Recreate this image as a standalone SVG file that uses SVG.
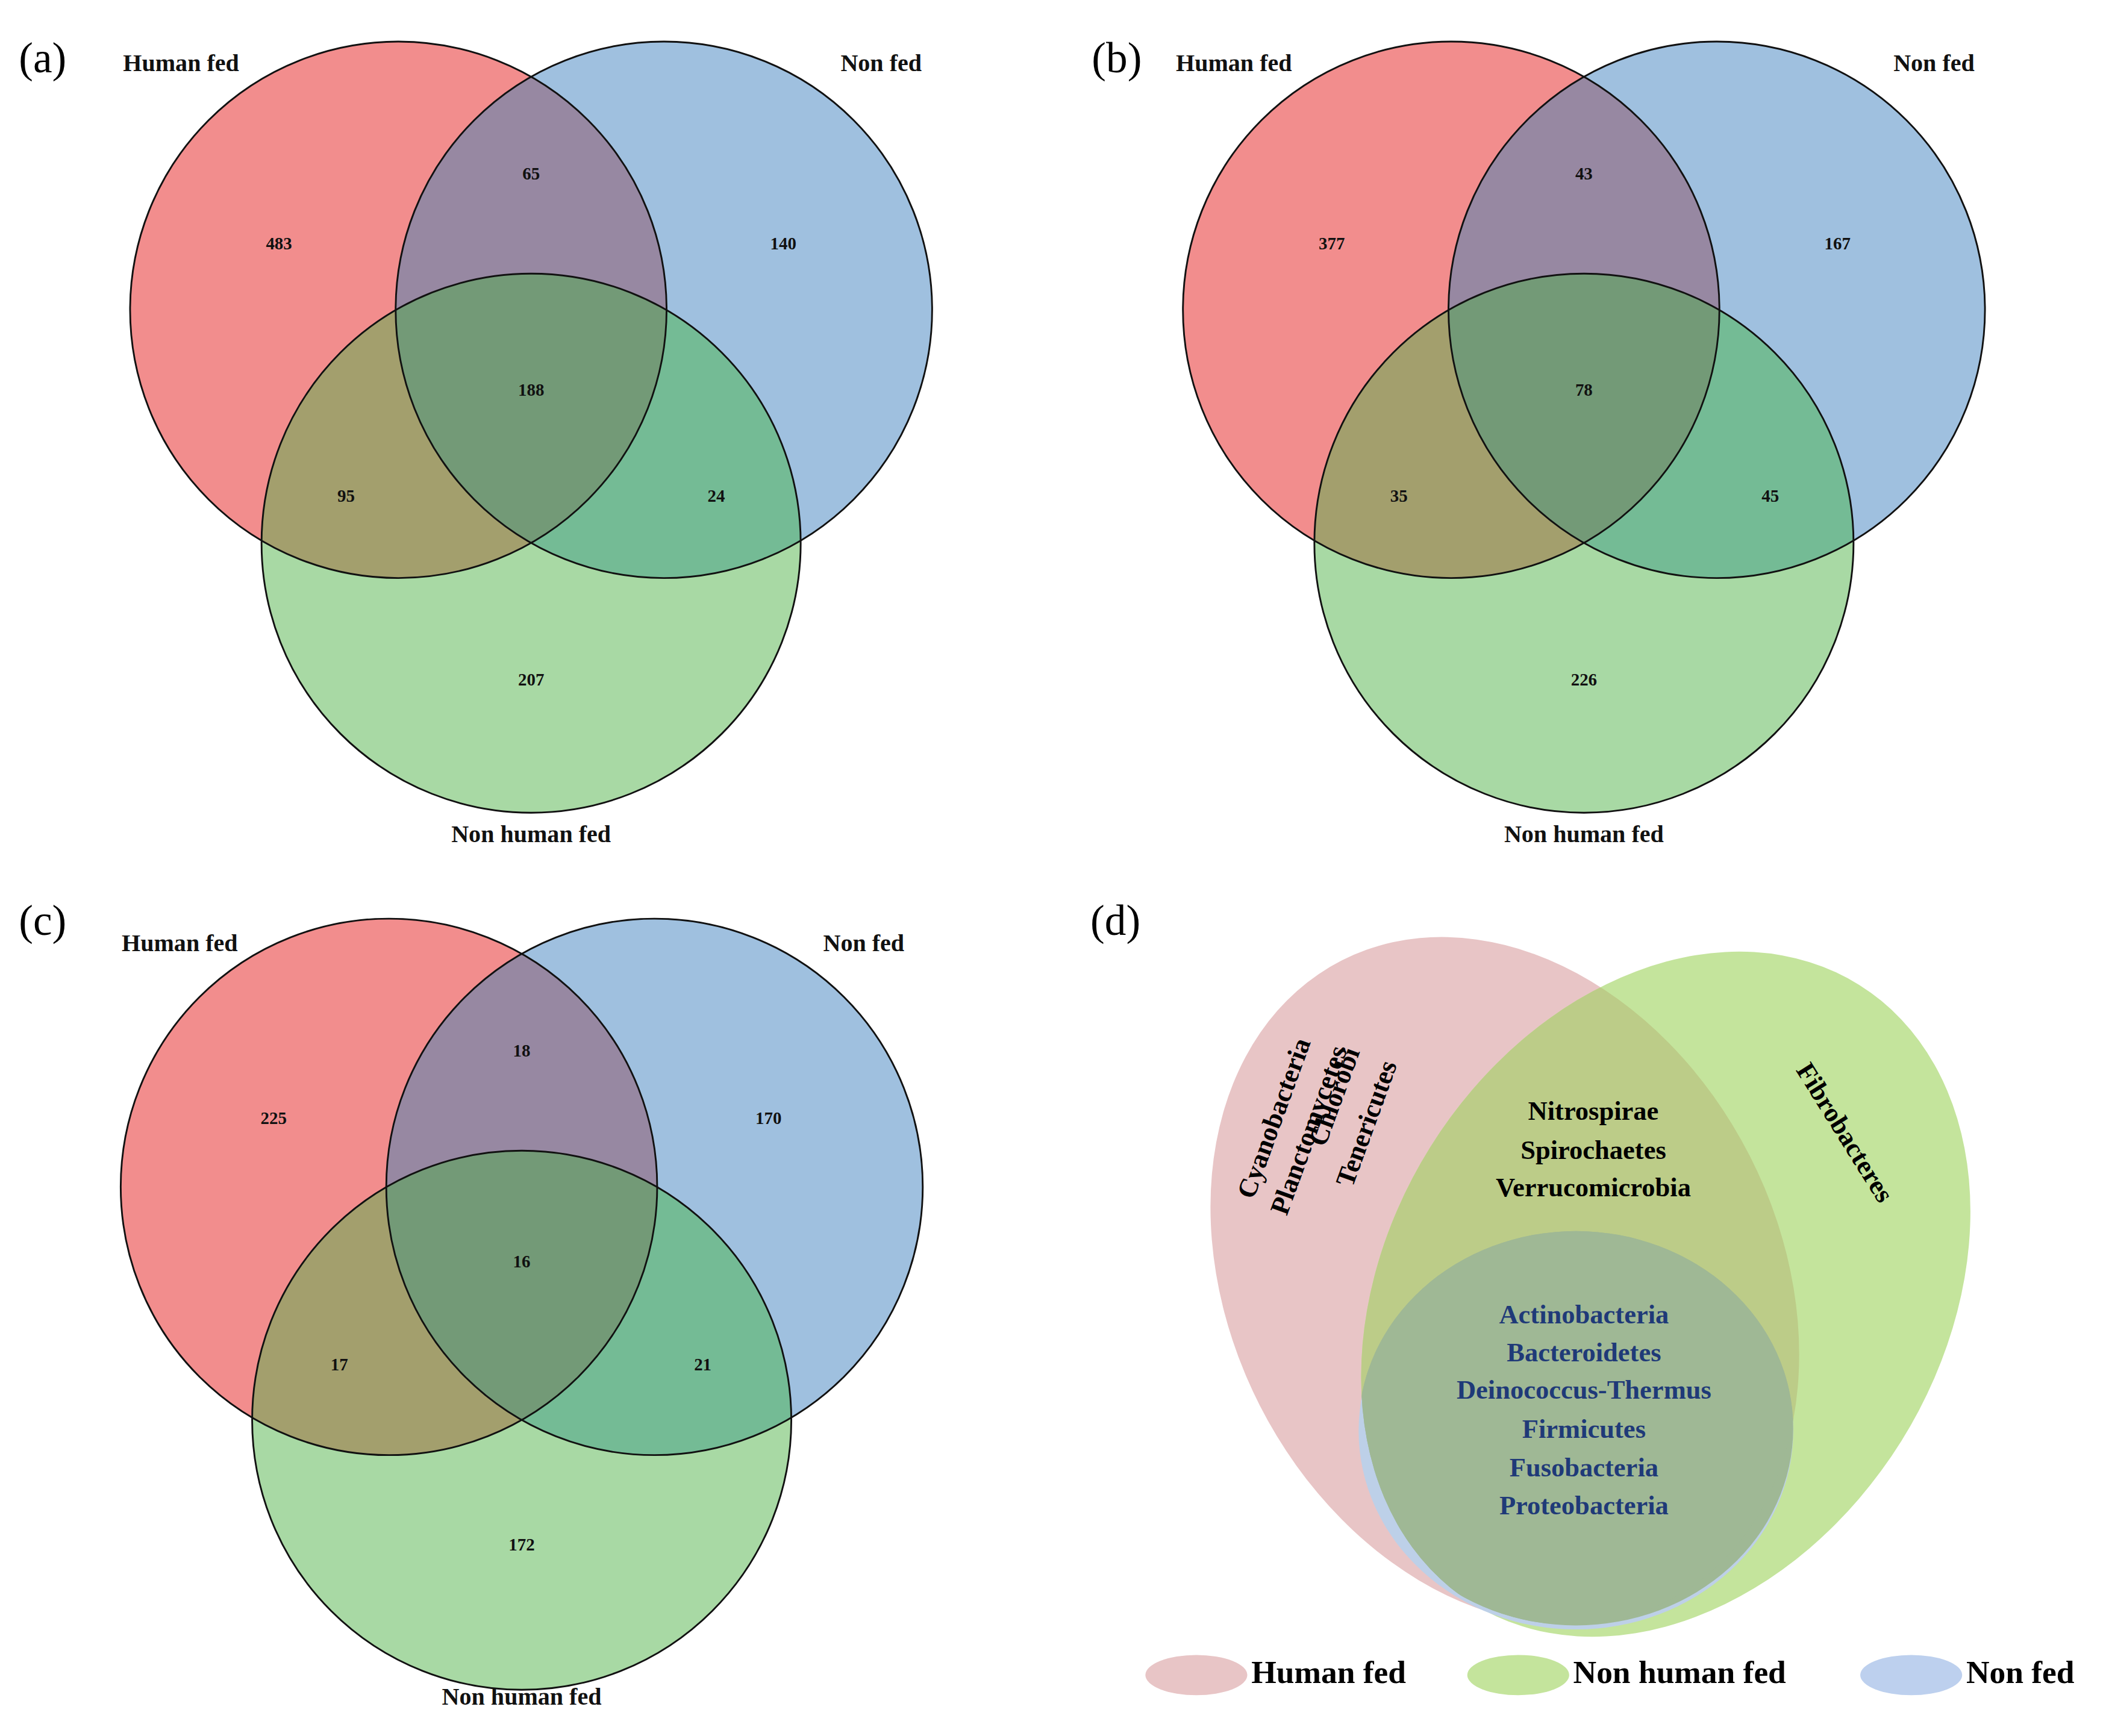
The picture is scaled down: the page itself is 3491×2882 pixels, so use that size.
<svg xmlns="http://www.w3.org/2000/svg" width="3491" height="2882" viewBox="0 0 3491 2882">
<style>
.n{font-family:"Liberation Serif",serif;font-weight:bold;font-size:13px;text-anchor:middle;fill:#111}
.l{font-family:"Liberation Serif",serif;font-weight:bold;font-size:18px;text-anchor:middle;fill:#111}
.p{font-family:"Liberation Serif",serif;font-size:32px;fill:#000}
.o{fill:none;stroke:#111;stroke-width:1.3}
.d{font-family:"Liberation Serif",serif;font-weight:bold;font-size:20px;text-anchor:middle;fill:#000}
.db{font-family:"Liberation Serif",serif;font-weight:bold;font-size:20px;text-anchor:middle;fill:#1f3a78}
.lg{font-family:"Liberation Serif",serif;font-weight:bold;font-size:24px;fill:#000}
</style>
<defs>
<clipPath id="cA"><circle cx="297" cy="231" r="200"/></clipPath>
<clipPath id="cB"><circle cx="495" cy="231" r="200"/></clipPath>
<clipPath id="cC"><circle cx="396" cy="405" r="201"/></clipPath>
<g id="venn">
<circle cx="297" cy="231" r="200" fill="#f28d8d"/>
<circle cx="495" cy="231" r="200" fill="#9fc0df"/>
<circle cx="396" cy="405" r="201" fill="#a8d9a4"/>
<g clip-path="url(#cA)"><circle cx="495" cy="231" r="200" fill="#9788a2"/><circle cx="396" cy="405" r="201" fill="#a39f6d"/></g>
<g clip-path="url(#cB)"><circle cx="396" cy="405" r="201" fill="#74bb95"/></g>
<g clip-path="url(#cA)"><g clip-path="url(#cB)"><circle cx="396" cy="405" r="201" fill="#739a77"/></g></g>
<circle class="o" cx="297" cy="231" r="200"/>
<circle class="o" cx="495" cy="231" r="200"/>
<circle class="o" cx="396" cy="405" r="201"/>
</g>
<clipPath id="pk"><ellipse cx="1122" cy="955" rx="205" ry="268" transform="rotate(-27 1122 955)"/></clipPath>
<clipPath id="gr"><ellipse cx="1242" cy="965" rx="207" ry="272" transform="rotate(32 1242 965)"/></clipPath>
</defs>
<g transform="scale(2.2264)">
<g id="panel-a">
<use href="#venn"/>
<text class="p" x="14" y="54">(a)</text>
<text class="l" x="135" y="53">Human fed</text>
<text class="l" x="657" y="53">Non fed</text>
<text class="l" x="396" y="628">Non human fed</text>
<text class="n" x="208" y="186">483</text><text class="n" x="396" y="134">65</text><text class="n" x="584" y="186">140</text>
<text class="n" x="396" y="295">188</text><text class="n" x="258" y="374">95</text><text class="n" x="534" y="374">24</text><text class="n" x="396" y="511">207</text>
</g>
<g id="panel-b" transform="translate(785,0)">
<use href="#venn"/>
<text class="p" x="29" y="54">(b)</text>
<text class="l" x="135" y="53">Human fed</text>
<text class="l" x="657" y="53">Non fed</text>
<text class="l" x="396" y="628">Non human fed</text>
<text class="n" x="208" y="186">377</text><text class="n" x="396" y="134">43</text><text class="n" x="585" y="186">167</text>
<text class="n" x="396" y="295">78</text><text class="n" x="258" y="374">35</text><text class="n" x="535" y="374">45</text><text class="n" x="396" y="511">226</text>
</g>
<g id="panel-c" transform="translate(-7,654)">
<use href="#venn"/>
<text class="p" x="21" y="43">(c)</text>
<text class="l" x="141" y="55">Human fed</text>
<text class="l" x="651" y="55">Non fed</text>
<text class="l" x="396" y="617">Non human fed</text>
<text class="n" x="211" y="184">225</text><text class="n" x="396" y="134">18</text><text class="n" x="580" y="184">170</text>
<text class="n" x="396" y="291">16</text><text class="n" x="260" y="368">17</text><text class="n" x="531" y="368">21</text><text class="n" x="396" y="502">172</text>
</g>
<g id="panel-d">
<text class="p" x="813" y="697">(d)</text>
<ellipse cx="1122" cy="955" rx="205" ry="268" transform="rotate(-27 1122 955)" fill="#e8c5c6"/>
<ellipse cx="1242" cy="965" rx="207" ry="272" transform="rotate(32 1242 965)" fill="#c4e49c"/>
<g clip-path="url(#pk)"><ellipse cx="1242" cy="965" rx="207" ry="272" transform="rotate(32 1242 965)" fill="#bccc88"/></g>
<ellipse cx="1175" cy="1067" rx="162" ry="148" fill="#bdd0e8"/>
<g clip-path="url(#gr)"><ellipse cx="1175" cy="1065" rx="162" ry="147" fill="#9fb895"/></g>
<g clip-path="url(#pk)"><g clip-path="url(#gr)"><ellipse cx="1175" cy="1065" rx="162" ry="147" fill="#9fb895"/></g></g>
<text class="d" transform="translate(956,836) rotate(-70)">Cyanobacteria</text>
<text class="d" transform="translate(982,845) rotate(-70)">Planctomycetes</text>
<text class="d" transform="translate(1001,820) rotate(-70)">Chlorobi</text>
<text class="d" transform="translate(1025,840) rotate(-70)">Tenericutes</text>
<text class="d" transform="translate(1370,848) rotate(58)">Fibrobacteres</text>
<text class="d" x="1188" y="835">Nitrospirae</text>
<text class="d" x="1188" y="864">Spirochaetes</text>
<text class="d" x="1188" y="892">Verrucomicrobia</text>
<text class="db" x="1181" y="987">Actinobacteria</text>
<text class="db" x="1181" y="1015">Bacteroidetes</text>
<text class="db" x="1181" y="1043">Deinococcus-Thermus</text>
<text class="db" x="1181" y="1072">Firmicutes</text>
<text class="db" x="1181" y="1101">Fusobacteria</text>
<text class="db" x="1181" y="1129">Proteobacteria</text>
<ellipse cx="892" cy="1249" rx="38" ry="15" fill="#e8c5c6"/>
<text class="lg" x="933" y="1255">Human fed</text>
<ellipse cx="1132" cy="1249" rx="38" ry="15" fill="#c4e49c"/>
<text class="lg" x="1173" y="1255">Non human fed</text>
<ellipse cx="1425" cy="1249" rx="38" ry="15" fill="#bdd0ee"/>
<text class="lg" x="1466" y="1255">Non fed</text>
</g>
</g>
</svg>
